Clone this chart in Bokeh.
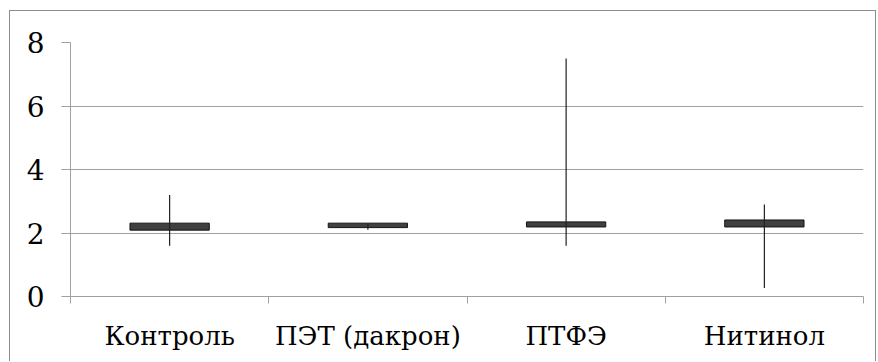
import numpy as np
from bokeh.plotting import figure
from bokeh.models import FixedTicker, Range1d, ColumnDataSource
from bokeh.embed import file_html
from bokeh.resources import INLINE

categories = ["Контроль", "ПЭТ (дакрон)", "ПТФЭ", "Нитинол"]
high = [3.2, 2.3, 7.5, 2.9]
low = [1.6, 2.1, 1.6, 0.27]
box_top = [2.31, 2.31, 2.35, 2.41]
box_bottom = [2.09, 2.17, 2.19, 2.19]
y_ticks = [0, 2, 4, 6, 8]

xpos = list(np.arange(len(categories)) + 0.5)
src = ColumnDataSource(dict(x=xpos, high=high, low=low, top=box_top, bottom=box_bottom))

FONT = "DejaVu Serif"

p = figure(width=867, height=351, output_backend="svg", toolbar_location=None,
           x_range=Range1d(0, len(categories)), y_range=Range1d(0, 8),
           min_border_left=60, min_border_right=14, min_border_top=31, min_border_bottom=66)
p.styles = {"margin-left": "9px", "margin-top": "10px",
            "border-left": "1px solid #8c8c8c", "border-top": "1px solid #8c8c8c",
            "border-right": "1px solid #8c8c8c"}
p.outline_line_color = None
p.background_fill_color = "white"
p.border_fill_color = "white"

p.vbar(x="x", width=0.4, top="top", bottom="bottom", source=src,
       fill_color="#404040", line_color="#141414", line_width=1)
p.segment(x0="x", y0="low", x1="x", y1="high", source=src, line_color="#202020", line_width=1.2)

grid_col = "#a0a0a0"
p.xgrid.visible = False
p.ygrid.ticker = FixedTicker(ticks=y_ticks)
p.ygrid.grid_line_color = grid_col
p.ygrid.grid_line_width = 1

ya = p.yaxis[0]
ya.ticker = FixedTicker(ticks=y_ticks)
ya.axis_line_color = grid_col
ya.major_tick_line_color = grid_col
ya.major_tick_out = 9
ya.major_tick_in = 0
ya.minor_tick_line_color = None
ya.major_label_standoff = 17
ya.major_label_text_font = FONT
ya.major_label_text_font_size = "28px"
ya.major_label_text_color = "black"

xa = p.xaxis[0]
xa.ticker = FixedTicker(ticks=xpos, minor_ticks=list(range(len(categories) + 1)))
xa.major_label_overrides = {float(x): c for x, c in zip(xpos, categories)}
xa.axis_line_color = grid_col
xa.major_tick_line_color = None
xa.major_tick_out = 0
xa.major_tick_in = 0
xa.minor_tick_line_color = grid_col
xa.minor_tick_out = 7
xa.minor_tick_in = 0
xa.major_label_standoff = 17
xa.major_label_text_font = FONT
xa.major_label_text_font_size = "26px"
xa.major_label_text_color = "black"

open("out.html", "w").write(file_html(p, INLINE))
